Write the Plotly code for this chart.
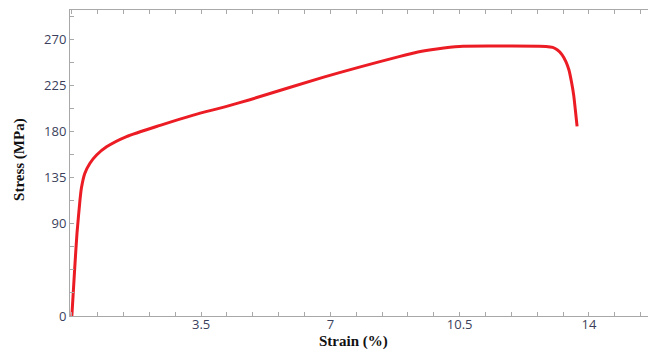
import plotly.graph_objects as go

strain = [0, 0.08, 0.14, 0.22, 0.26, 0.35, 0.49, 0.67, 0.94, 1.48, 2.39, 3.29, 4.19, 4.82,
          6.82, 8.86, 9.37, 9.88, 10.49, 11.5, 12.84, 13.02, 13.15, 13.27, 13.38, 13.46,
          13.53, 13.59, 13.63, 13.68]
stress = [0, 48, 81, 113, 125, 139, 149, 157, 165, 175, 186, 196, 204.5, 211,
          233, 253, 257.5, 260.5, 263, 263.3, 263, 262, 259.5, 255, 248, 240,
          228, 215, 202, 185]

x_tick_vals = [3.5, 7, 10.5, 14]
x_tick_text = ["3.5", "7", "10.5", "14"]
y_tick_vals = [0, 90, 135, 180, 225, 270]
y_tick_text = ["0", "90", "135", "180", "225", "270"]

fig = go.Figure()
fig.add_trace(go.Scatter(x=strain, y=stress, mode="lines",
                         line=dict(color="#ec1c24", width=3, shape="spline", smoothing=0.6),
                         showlegend=False, hoverinfo="skip"))

axis_col = "#a8a8a8"
tick_font = dict(family="Open Sans, sans-serif", size=13, color="#3b3f5c")
title_font = dict(family="Liberation Serif, Times New Roman, serif", size=15, color="#111111")

fig.update_layout(
    width=651, height=351,
    margin=dict(l=70, r=3, t=10, b=35),
    paper_bgcolor="white", plot_bgcolor="white",
    xaxis=dict(range=[-0.05, 15.6], tickvals=x_tick_vals, ticktext=x_tick_text,
               automargin=False,
               showgrid=False, zeroline=False, showline=True, linecolor=axis_col, linewidth=1,
               mirror="allticks", ticks="inside", ticklen=4, tickcolor=axis_col,
               minor=dict(dtick=0.7, tick0=0, ticks="inside", ticklen=4, tickcolor=axis_col, showgrid=False),
               tickfont=tick_font, ticklabelstandoff=-4),
    yaxis=dict(range=[0, 298.5], tickvals=y_tick_vals, ticktext=y_tick_text,
               automargin=False,
               showgrid=False, zeroline=False, showline=True, linecolor=axis_col, linewidth=1,
               ticks="inside", ticklen=4, tickcolor=axis_col,
               minor=dict(dtick=22.5, tick0=0, ticks="inside", ticklen=4, tickcolor=axis_col, showgrid=False),
               tickfont=tick_font),
    annotations=[
        dict(text="<b>Strain (%)</b>", xref="paper", yref="paper", x=0.49, y=-0.1144,
             xanchor="center", yanchor="bottom", showarrow=False, font=title_font, borderpad=0),
        dict(text="<b>Stress (MPa)</b>", xref="paper", yref="paper", x=-0.0865, y=0.51,
             xanchor="center", yanchor="middle", showarrow=False, textangle=-90, font=title_font),
    ],
)

fig.write_html("out.html", config={"displayModeBar": False},
               post_script="document.body.style.margin='0';document.body.style.overflow='hidden';")
